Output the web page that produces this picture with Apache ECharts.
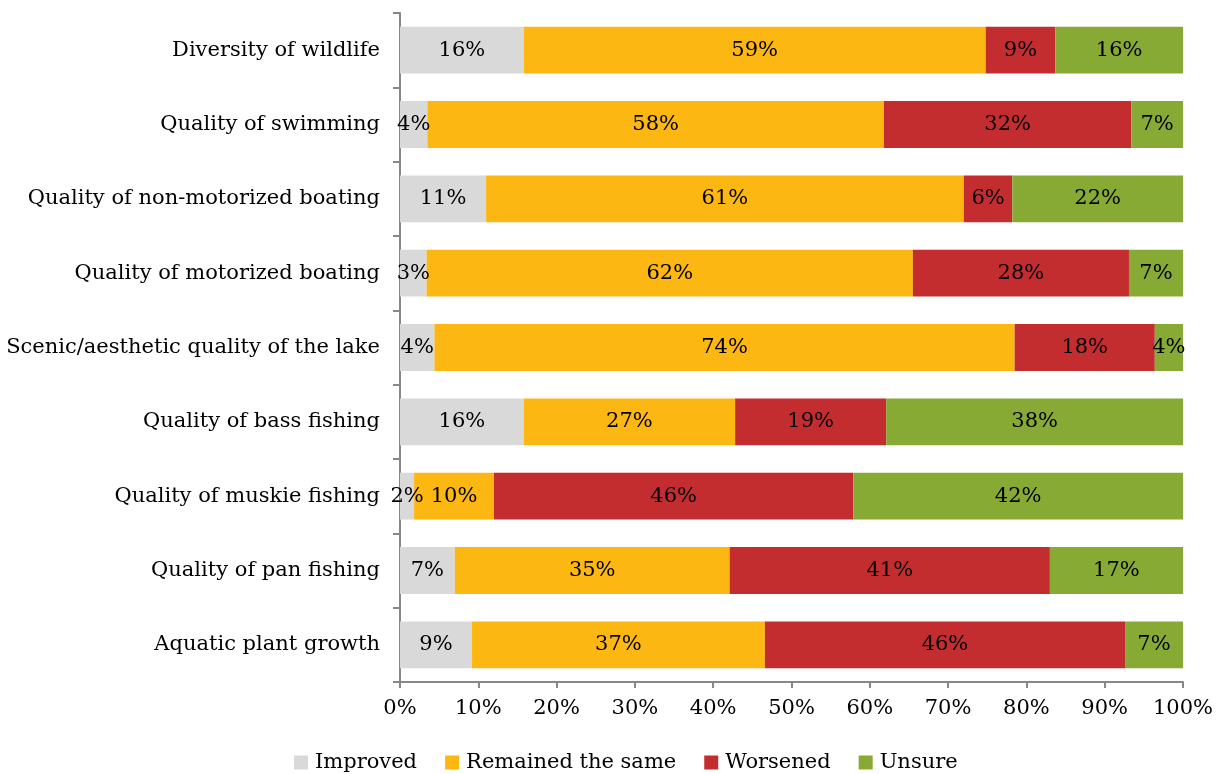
<!DOCTYPE html>
<html>
<head>
<meta charset="utf-8">
<script src="https://cdn.jsdelivr.net/npm/echarts@6/dist/echarts.min.js"></script>
<style>
  html, body { margin: 0; padding: 0; background: #fff; }
  #chart { width: 1220px; height: 774px; }
</style>
</head>
<body>
<div id="chart"></div>
<script>
// Survey items, listed top to bottom
const categories = [
  'Diversity of wildlife',
  'Quality of swimming',
  'Quality of non-motorized boating',
  'Quality of motorized boating',
  'Scenic/aesthetic quality of the lake',
  'Quality of bass fishing',
  'Quality of muskie fishing',
  'Quality of pan fishing',
  'Aquatic plant growth'
];

// Share of responses (%) per item
const improved  = [15.8,  3.5, 11.0,  3.4,  4.4, 15.8,  1.8,  7.0,  9.2];
const remained  = [59.0, 58.3, 61.0, 62.1, 74.1, 27.0, 10.2, 35.1, 37.4];
const worsened  = [ 8.9, 31.6,  6.2, 27.6, 17.9, 19.3, 45.9, 40.9, 46.0];
const unsure    = [16.3,  6.6, 21.8,  6.9,  3.6, 37.9, 42.1, 17.0,  7.4];

const seriesNames = ['Improved', 'Remained the same', 'Worsened', 'Unsure'];
const seriesColors = ['#d9d9d9', '#fdb713', '#c32d2f', '#87aa34'];
const xTicks = [0, 10, 20, 30, 40, 50, 60, 70, 80, 90, 100];

const FONT = 'DejaVu Serif';
const FS = 21;
const chart = echarts.init(document.getElementById('chart'), null, { renderer: 'canvas' });

const seriesData = [improved, remained, worsened, unsure];

chart.setOption({
  animation: false,
  textStyle: { fontFamily: FONT, color: '#000' },
  grid: { left: 400, right: 37, top: 13, bottom: 92, containLabel: false },
  legend: {
    top: 747,
    left: 289,
    itemWidth: 14,
    itemHeight: 14,
    itemGap: 28,
    icon: 'rect',
    textStyle: { fontFamily: FONT, fontSize: FS, color: '#000', padding: [0, 0, 0, 2] },
    data: seriesNames
  },
  xAxis: {
    type: 'value',
    min: 0,
    max: 100,
    interval: 10,
    splitLine: { show: false },
    axisLine: { show: true, lineStyle: { color: '#878787', width: 2 } },
    axisTick: { show: true, length: 6, lineStyle: { color: '#878787', width: 2 } },
    axisLabel: {
      fontFamily: FONT, fontSize: FS, color: '#000', margin: 16,
      formatter: v => xTicks.includes(v) ? v + '%' : ''
    }
  },
  yAxis: {
    type: 'category',
    data: categories,
    inverse: true,
    axisLine: { show: true, lineStyle: { color: '#878787', width: 2 } },
    axisTick: { show: true, length: 7, lineStyle: { color: '#878787', width: 2 } },
    axisLabel: { fontFamily: FONT, fontSize: FS, color: '#000', margin: 20 }
  },
  series: seriesNames.map((name, i) => ({
    name: name,
    type: 'bar',
    stack: 'total',
    barCategoryGap: '37%',
    itemStyle: { color: seriesColors[i] },
    label: {
      show: true,
      position: 'inside',
      fontFamily: FONT,
      fontSize: FS,
      color: '#000',
      formatter: p => Math.round(p.value) + '%'
    },
    data: seriesData[i]
  }))
});
</script>
</body>
</html>
